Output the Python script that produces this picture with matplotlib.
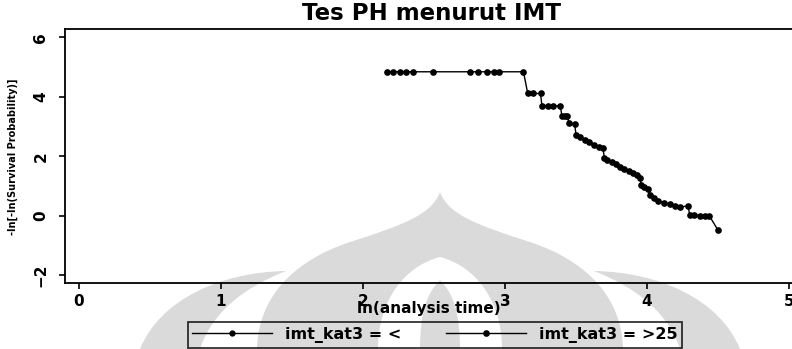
import matplotlib
matplotlib.use('Agg')
import matplotlib.pyplot as plt
from matplotlib.patches import PathPatch
from matplotlib.path import Path

plt.rcParams['font.family'] = ['DejaVu Sans']

# -ln[-ln S(t)] against ln(t), grouped by IMT category
ln_t_lt25 = []
y_lt25 = []

ln_t_gt25 = [2.17, 2.21, 2.26, 2.30, 2.35, 2.49, 2.75, 2.81, 2.87, 2.92, 2.96, 3.13,
             3.16, 3.20, 3.25,
             3.26, 3.30, 3.34, 3.39,
             3.40, 3.42, 3.44,
             3.45, 3.49,
             3.50, 3.53, 3.56, 3.59, 3.63, 3.66, 3.69,
             3.70, 3.72, 3.75, 3.78, 3.81, 3.84, 3.87, 3.90, 3.93, 3.95,
             3.96, 3.98, 4.01,
             4.02, 4.05, 4.08, 4.12, 4.16, 4.20, 4.23,
             4.29,
             4.30, 4.33, 4.37, 4.41, 4.44,
             4.50]
y_gt25 = [4.84, 4.84, 4.84, 4.84, 4.84, 4.84, 4.84, 4.84, 4.84, 4.84, 4.84, 4.84,
          4.11, 4.11, 4.11,
          3.70, 3.70, 3.70, 3.69,
          3.36, 3.35, 3.34,
          3.10, 3.09,
          2.72, 2.63, 2.55, 2.47, 2.38, 2.32, 2.27,
          1.93, 1.86, 1.79, 1.72, 1.64, 1.57, 1.50, 1.43, 1.36, 1.28,
          1.02, 0.95, 0.88,
          0.68, 0.58, 0.50, 0.43, 0.38, 0.33, 0.28,
          0.33,
          0.02, 0.03, 0.00, 0.00, -0.02,
          -0.49]

x_ticks = [0, 1, 2, 3, 4, 5]
y_ticks = [-2, 0, 2, 4, 6]
series_labels = ['imt_kat3 = <', 'imt_kat3 = >25']

W, H = 792, 349
fig = plt.figure(figsize=(W / 100, H / 100), dpi=100)
fig.patch.set_facecolor('white')

# faint background watermark (pixel coordinates, y downwards)
bg = fig.add_axes([0, 0, 1, 1], zorder=0)
bg.set_xlim(0, W)
bg.set_ylim(H, 0)
bg.axis('off')
wm = '#dadada'
M, C, L, Z = Path.MOVETO, Path.CURVE4, Path.LINETO, Path.CLOSEPOLY


def shape(verts, codes, color):
    bg.add_patch(PathPatch(Path(verts, codes), facecolor=color, edgecolor='none'))


# onion dome
shape([(257, 349), (258, 300), (290, 262), (350, 242),
       (400, 226), (432, 215), (440, 192),
       (448, 215), (480, 226), (530, 242),
       (590, 262), (622, 300), (623, 349), (257, 349)],
      [M, C, C, C, C, C, C, C, C, C, C, C, C, Z], wm)
# inner arch
shape([(378, 349), (378, 300), (405, 266), (440, 257),
       (475, 266), (502, 300), (502, 349), (378, 349)],
      [M, C, C, C, C, C, C, Z], 'white')
# central pillar
shape([(420, 349), (420, 310), (428, 292), (440, 280),
       (452, 292), (460, 310), (460, 349), (420, 349)],
      [M, C, C, C, C, C, C, Z], wm)
# side wings
shape([(286, 271), (220, 272), (160, 300), (140, 349), (200, 349),
       (212, 312), (245, 287), (286, 271), (286, 271)],
      [M, C, C, C, L, C, C, C, Z], wm)
shape([(594, 271), (660, 272), (720, 300), (740, 349), (680, 349),
       (668, 312), (635, 287), (594, 271), (594, 271)],
      [M, C, C, C, L, C, C, C, Z], wm)

# main plot
ax = fig.add_axes([65 / W, 1 - 283.3 / H, (W - 65) / W, 254 / H], zorder=1)
ax.set_facecolor('none')

ax.plot(ln_t_lt25, y_lt25, color='black', lw=1.0, marker='o', ms=3.5,
        label=series_labels[0])
ax.plot(ln_t_gt25, y_gt25, color='black', lw=1.0, marker='o', ms=3.8,
        label=series_labels[1])

ax.set_xlim(-0.0986, 5.021)
ax.set_ylim(-2.28, 6.27)
ax.set_xticks(x_ticks)
ax.set_yticks(y_ticks)
ax.tick_params(direction='out', length=4, width=1.2, labelsize=11, pad=4)
ax.tick_params(axis='y', pad=8)
for lbl in ax.get_yticklabels():
    lbl.set_rotation(90)
    lbl.set_va('center')
for lbl in ax.get_xticklabels() + ax.get_yticklabels():
    lbl.set_fontweight('bold')

for side in ['left', 'bottom', 'top']:
    ax.spines[side].set_linewidth(1.3)
ax.spines['right'].set_visible(False)

ax.set_xlabel('ln(analysis time)', fontsize=11, fontweight='bold', labelpad=-6)
ax.set_ylabel('-ln[-ln(Survival Probability)]', fontsize=7, fontweight='bold',
              labelpad=11)

fig.text(431 / W, 1 - 13 / H, 'Tes PH menurut IMT', ha='center', va='center',
         fontsize=16.5, fontweight='bold')

leg = ax.legend(loc='center', bbox_to_anchor=(435 / W, 1 - 335 / H),
                bbox_transform=fig.transFigure, ncol=2, numpoints=1,
                handlelength=5.0, handletextpad=0.8, columnspacing=2.8,
                frameon=True, fancybox=False, borderpad=0.3,
                prop={'size': 11.5, 'weight': 'bold'})
leg.get_frame().set_edgecolor('black')
leg.get_frame().set_linewidth(1.3)
leg.get_frame().set_facecolor('none')

fig.savefig('out.png', dpi=100, facecolor='white')
